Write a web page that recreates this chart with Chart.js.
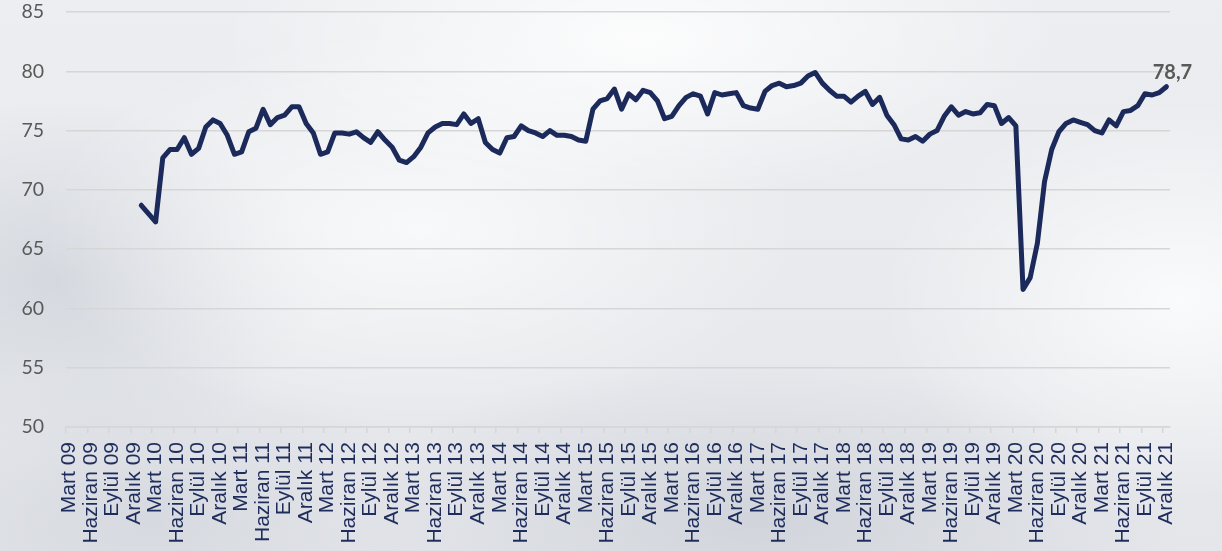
<!DOCTYPE html>
<html>
<head>
<meta charset="utf-8">
<script src="https://cdn.jsdelivr.net/npm/chart.js@4"></script>
<style>
html,body{margin:0;padding:0;}
body{
  width:1222px;height:551px;overflow:hidden;
  background:
    radial-gradient(ellipse 420px 160px at 640px 40px, rgba(255,255,255,0.85), rgba(255,255,255,0) 100%),
    radial-gradient(ellipse 300px 200px at 1180px 300px, rgba(255,255,255,0.8), rgba(255,255,255,0) 100%),
    radial-gradient(ellipse 380px 200px at 420px 230px, rgba(255,255,255,0.7), rgba(255,255,255,0) 100%),
    radial-gradient(ellipse 260px 180px at 60px 280px, rgba(200,204,212,0.6), rgba(200,204,212,0) 100%),
    radial-gradient(ellipse 420px 160px at 760px 520px, rgba(196,200,208,0.6), rgba(196,200,208,0) 100%),
    radial-gradient(ellipse 300px 150px at 150px 520px, rgba(200,204,212,0.5), rgba(200,204,212,0) 100%),
    linear-gradient(#eceef1, #e4e6ea);
}
#wrap{position:absolute;left:0;top:0;width:1222px;height:551px;}
</style>
</head>
<body>
<div id="wrap"><canvas id="c" width="1222" height="551"></canvas></div>
<script>
// Month names (Turkish) and years covered by the x axis
const monthNames = ['Ocak','Şubat','Mart','Nisan','Mayıs','Haziran','Temmuz','Ağustos','Eylül','Ekim','Kasım','Aralık'];
const years = [2009,2010,2011,2012,2013,2014,2015,2016,2017,2018,2019,2020,2021];
const startMonthIndex = 2; // Mart 2009
const tickLabelMonths = ['Mart','Haziran','Eylül','Aralık'];

// Series values (capacity utilisation, %), monthly
const v2009 = [null,null,null,null,null,null,null,null,null,null]; // Mart–Aralık 2009: no data
const v2010 = [68.7,68.0,67.3,72.7,73.4,73.4,74.4,73.0,73.5,75.3,75.9,75.6];
const v2011 = [74.6,73.0,73.2,74.9,75.2,76.8,75.5,76.1,76.3,77.0,77.0,75.6];
const v2012 = [74.8,73.0,73.2,74.8,74.8,74.7,74.9,74.4,74.0,74.9,74.2,73.6];
const v2013 = [72.5,72.3,72.8,73.6,74.8,75.3,75.6,75.6,75.5,76.4,75.6,76.0];
const v2014 = [74.0,73.4,73.1,74.4,74.5,75.4,75.0,74.8,74.5,75.0,74.6,74.6];
const v2015 = [74.5,74.2,74.1,76.8,77.5,77.7,78.5,76.8,78.1,77.6,78.4,78.2];
const v2016 = [77.5,76.0,76.2,77.1,77.8,78.1,77.9,76.4,78.2,78.0,78.1,78.2];
const v2017 = [77.1,76.9,76.8,78.3,78.8,79.0,78.7,78.8,79.0,79.6,79.9,79.0];
const v2018 = [78.4,77.9,77.9,77.4,77.9,78.3,77.2,77.8,76.3,75.5,74.3,74.2];
const v2019 = [74.5,74.1,74.7,75.0,76.2,77.0,76.3,76.6,76.4,76.5,77.2,77.1];
const v2020 = [75.6,76.1,75.4,61.6,62.6,65.5,70.7,73.4,74.9,75.6,75.9,75.7];
const v2021 = [75.5,75.0,74.8,75.9,75.4,76.6,76.7,77.1,78.1,78.0,78.2,78.7];

const lastValueLabel = '78,7';

// Y axis ticks
const yMin = 50, yMax = 85, yStep = 5;

// Build categories
const labels = [];
years.forEach((y, yi) => {
  const from = yi === 0 ? startMonthIndex : 0;
  for (let m = from; m < 12; m++) {
    labels.push(monthNames[m] + ' ' + String(y).slice(2));
  }
});
const values = [].concat(v2009, v2010, v2011, v2012, v2013, v2014, v2015, v2016, v2017, v2018, v2019, v2020, v2021);

const lastLabelPlugin = {
  id: 'lastLabel',
  afterDatasetsDraw(chart) {
    const meta = chart.getDatasetMeta(0);
    const pt = meta.data[meta.data.length - 1];
    const ctx = chart.ctx;
    ctx.save();
    ctx.font = 'bold 20px Lato';
    ctx.fillStyle = '#595959';
    ctx.textAlign = 'center';
    ctx.textBaseline = 'middle';
    ctx.fillText(lastValueLabel, pt.x + 6, pt.y - 14);
    ctx.restore();
  }
};

new Chart(document.getElementById('c'), {
  type: 'line',
  data: {
    labels: labels,
    datasets: [{
      data: values,
      borderColor: '#1b2a5a',
      borderWidth: 5,
      pointRadius: 0,
      tension: 0,
      fill: false,
      spanGaps: false,
      borderCapStyle: 'round',
      borderJoinStyle: 'round'
    }]
  },
  options: {
    responsive: false,
    animation: false,
    devicePixelRatio: 1,
    layout: { padding: { left: 0, right: 52, top: 12, bottom: 0 } },
    plugins: { legend: { display: false }, tooltip: { enabled: false } },
    scales: {
      x: {
        type: 'category',
        offset: true,
        afterFit(scale) {
          scale.height = 124;
          scale.paddingLeft = 0; scale.paddingRight = 0;
          scale.paddingTop = 0; scale.paddingBottom = 0;
        },
        grid: {
          display: true,
          offset: true,
          drawOnChartArea: false,
          drawTicks: true,
          tickLength: 6,
          lineWidth: 1.5,
          color: (ctx) => (ctx.index !== undefined && ctx.index % 3 === 0) ? '#d6d6d6' : 'rgba(0,0,0,0)'
        },
        border: { display: true, color: '#d6d6d6', width: 1.5 },
        ticks: {
          autoSkip: false,
          maxRotation: 90,
          minRotation: 90,
          padding: 9,
          color: '#1f2d5c',
          font: { family: 'Liberation Sans', size: 21 },
          callback: function(val, idx) {
            const l = this.getLabelForValue(val);
            return tickLabelMonths.includes(l.split(' ')[0]) ? l : '';
          }
        }
      },
      y: {
        min: yMin,
        max: yMax,
        afterFit(scale) {
          scale.width = 66;
          scale.paddingTop = 0; scale.paddingBottom = 0;
          scale.paddingLeft = 0; scale.paddingRight = 0;
        },
        grid: { color: '#d6d6d6', lineWidth: 1.5, drawTicks: false },
        border: { display: false },
        ticks: {
          stepSize: yStep,
          padding: 22,
          color: '#595959',
          font: { family: 'Lato', size: 19.5 }
        }
      }
    }
  },
  plugins: [lastLabelPlugin]
});
</script>
</body>
</html>
